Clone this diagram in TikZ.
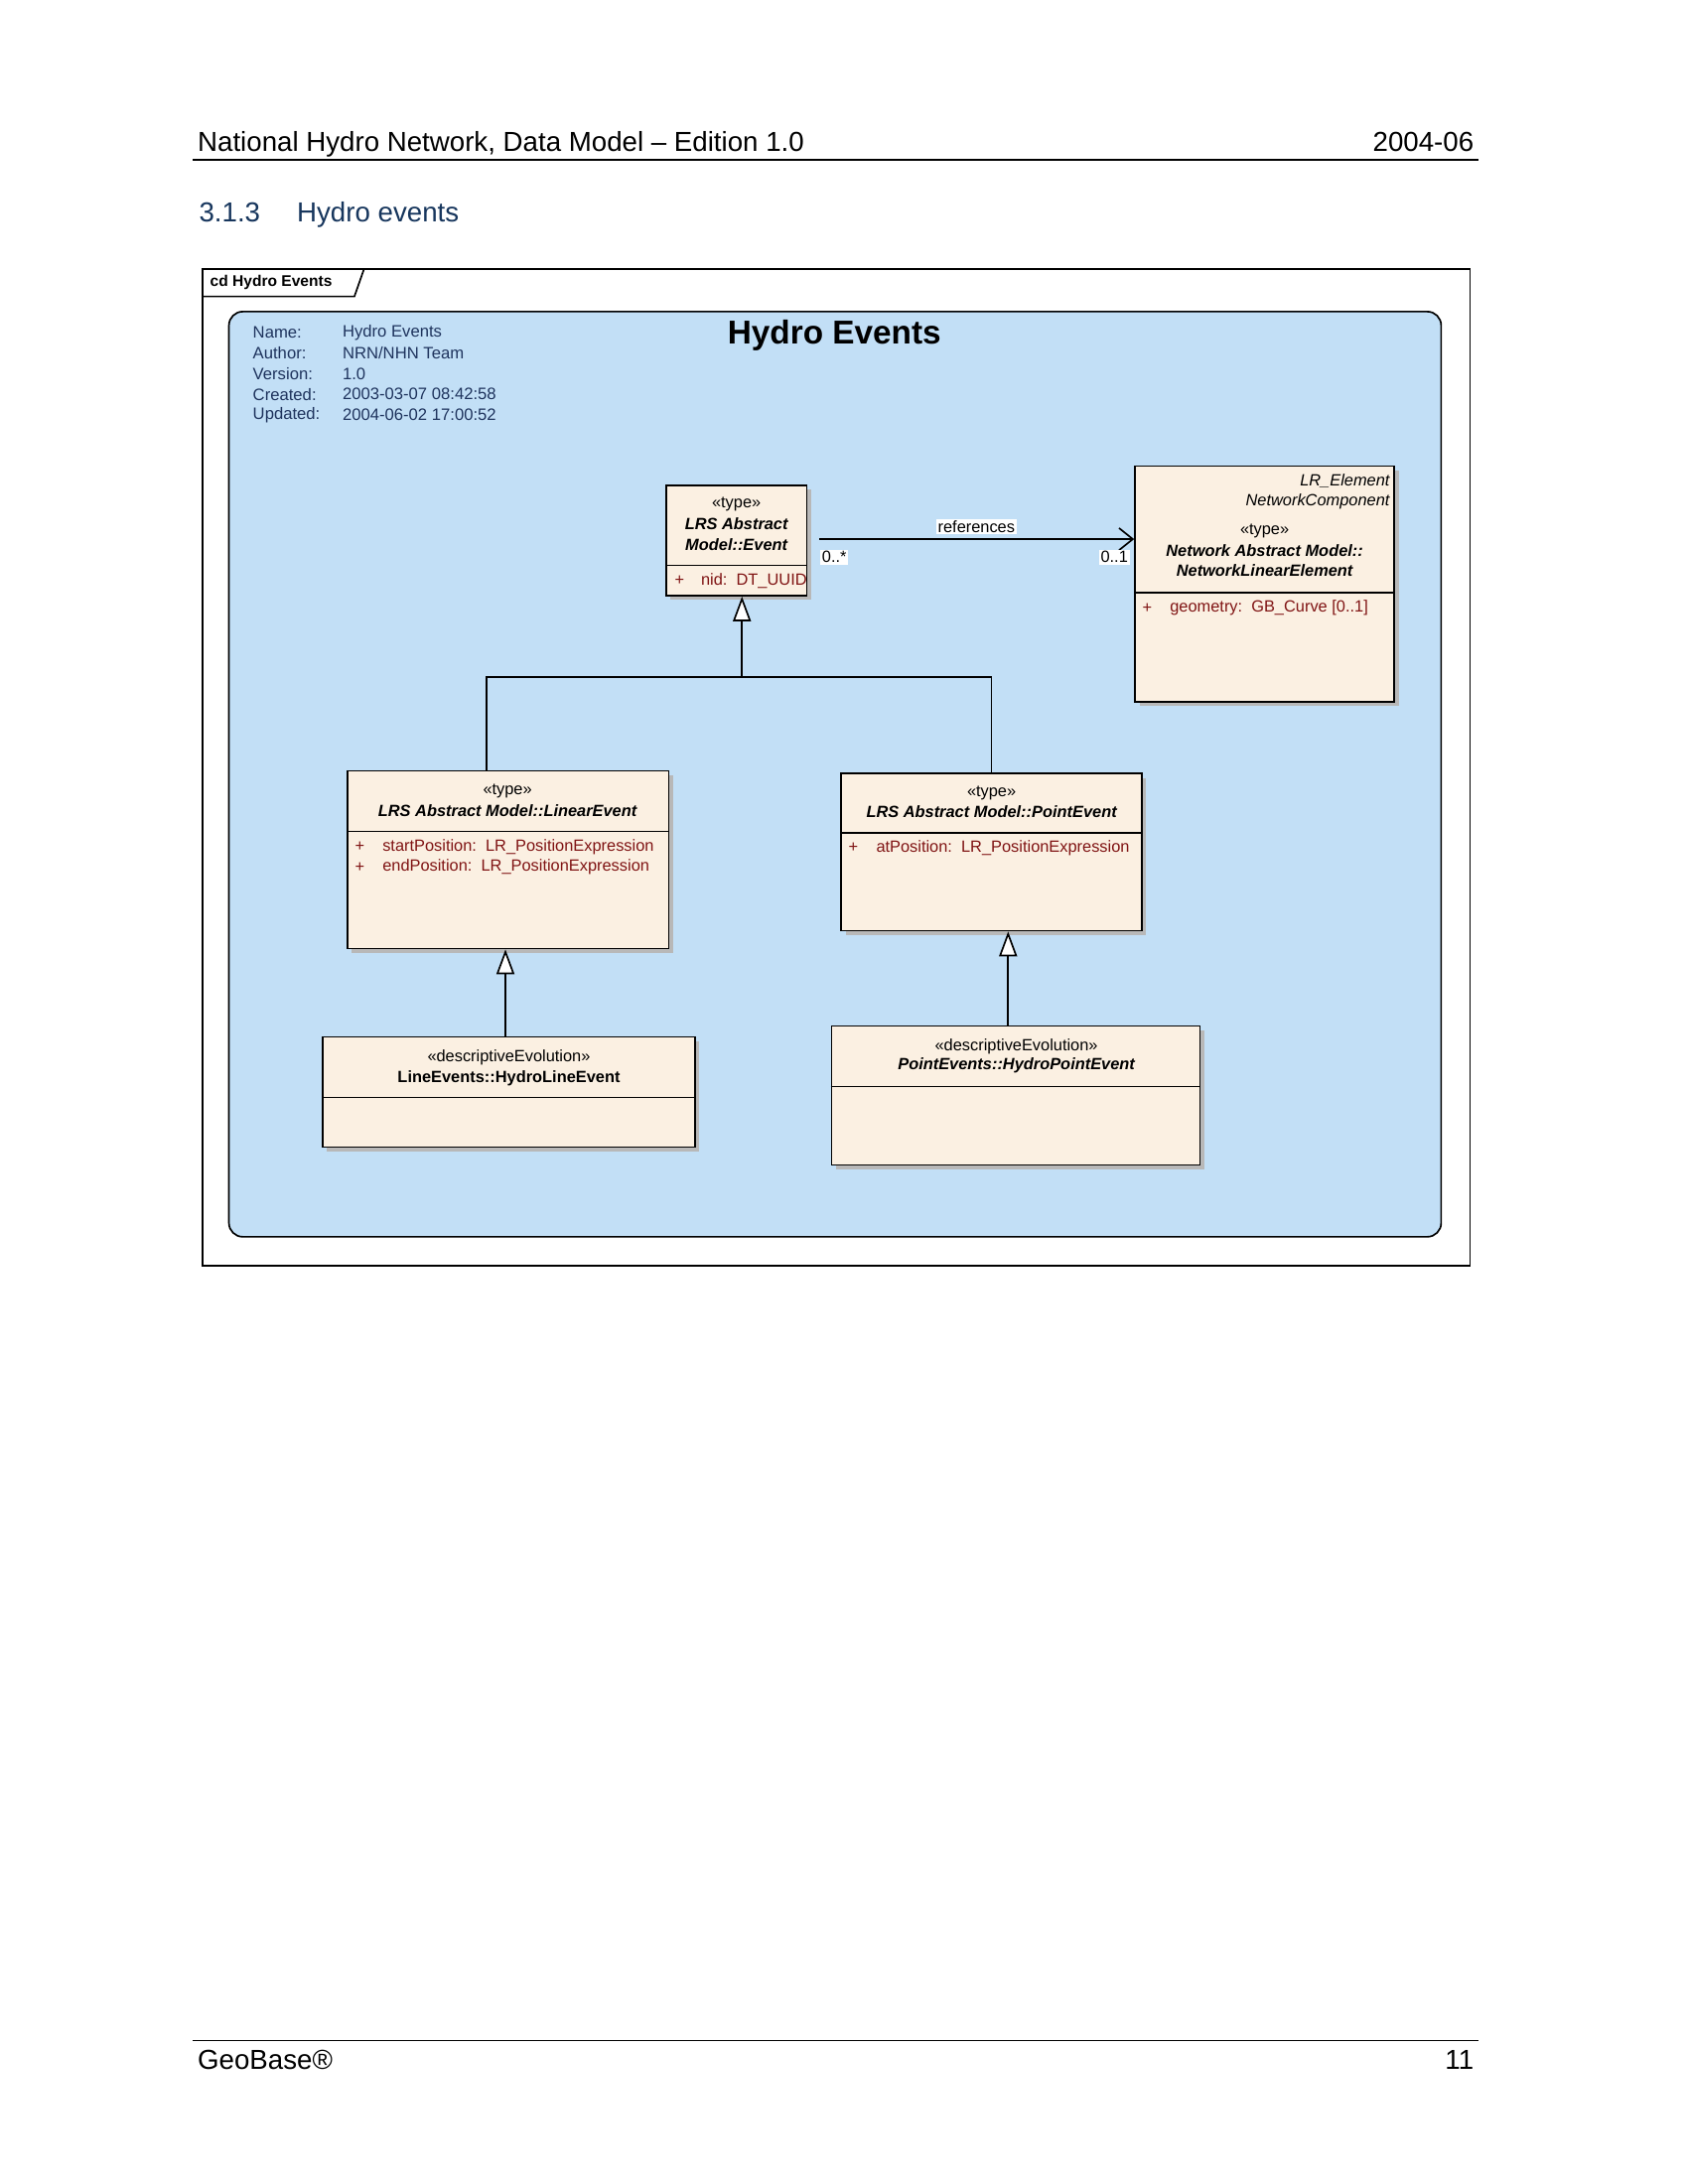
\documentclass[tikz,border=0pt]{standalone}
\usepackage{fontspec}
\setmainfont{Liberation Sans}
\usetikzlibrary{arrows.meta,fit,shadows}

\definecolor{panelblue}{RGB}{194,223,246}
\definecolor{classfill}{RGB}{251,240,226}
\definecolor{attrred}{RGB}{128,20,20}
\definecolor{infoblue}{RGB}{31,52,94}
\definecolor{headblue}{RGB}{23,54,93}

\tikzset{
  cls/.style={draw, fill=classfill, inner sep=0pt, line width=0.6bp,
    drop shadow={shadow xshift=1.6bp, shadow yshift=-1.6bp, fill=black!28, opacity=1}},
  sep/.style={line width=0.6bp},
  small/.style={font=\fontsize{5.9bp}{7bp}\selectfont, inner sep=0pt},
  clsname/.style={small, font=\fontsize{5.9bp}{7bp}\selectfont\bfseries\itshape},
  attr/.style={small, text=attrred, anchor=west},
  info/.style={font=\fontsize{6bp}{7bp}\selectfont, text=infoblue, inner sep=0pt, anchor=west},
  mult/.style={small, fill=white, inner sep=0.6bp},
  gen/.style={line width=0.6bp, -{Triangle[length=9bp,width=6.5bp,fill=white]}},
  assoc/.style={line width=0.6bp, -{Straight Barb[length=5bp,width=8bp]}},
  page/.style={font=\fontsize{10pt}{12pt}\selectfont, inner sep=0pt}
}

\begin{document}
\begin{tikzpicture}[x=0.5bp,y=-0.5bp]

\fill[white] (0,0) rectangle (1224,1584);
\useasboundingbox (0,0) rectangle (1224,1584);

% page header and footer
\node[page, anchor=base west] (head) at (143,110) {National Hydro Network, Data Model -- Edition 1.0};
\node[page, anchor=base east] (date) at (1069,110) {2004-06};
\draw[line width=0.5bp] (140,116) -- (1072,116);
\node[page, anchor=base west, text=headblue] (secno) at (144,161) {3.1.3};
\node[page, anchor=base west, text=headblue] (sec) at (215,161) {Hydro events};
\draw[line width=0.5bp] (140,1480) -- (1072,1480);
\node[page, anchor=base west] (foot) at (143,1501) {GeoBase®};
\node[page, anchor=base east] (pno) at (1069,1501) {11};

% diagram frame
\draw[line width=0.6bp] (147,195) rectangle (1066,918);
\draw[line width=0.6bp] (147,215) -- (257,215) -- (264,195);
\node[font=\fontsize{5.6bp}{7bp}\selectfont\bfseries, anchor=west, inner sep=0pt] (tab) at (152,205) {cd Hydro Events};

\draw[line width=0.6bp, fill=panelblue, rounded corners=5bp] (166,226) rectangle (1045,897);
\node[font=\fontsize{12bp}{14bp}\selectfont\bfseries, inner sep=0pt] (title) at (605,243) {Hydro Events};

\foreach \k/\v [count=\i] in {Name:/Hydro Events, Author:/{NRN/NHN Team}, Version:/1.0,
    Created:/2003-03-07 08:42:58, Updated:/2004-06-02 17:00:52} {
  \node[info] (key\i) at (183,226+15*\i) {\k};
  \node[info] (val\i) at (248,226+15*\i) {\v};
}

% classes
\node[cls, fit={(483,352) (585,432)}] (event) {};
\draw[sep] (event.west |- 0,410) -- (event.east |- 0,410);
\node[small] (eventst) at (534,366) {«type»};
\node[clsname] (eventnm1) at (534,380) {LRS Abstract};
\node[clsname] (eventnm2) at (534,395) {Model::Event};
\node[attr] (eventp) at (489,421) {+};
\node[attr] (eventa) at (508,421) {nid:~~DT\_UUID};

\node[cls, fit={(823,338) (1011,509)}] (nle) {};
\draw[sep] (nle.west |- 0,430) -- (nle.east |- 0,430);
\node[small, font=\fontsize{5.9bp}{7bp}\selectfont\itshape, anchor=east] (nleif1) at (1008,349) {LR\_Element};
\node[small, font=\fontsize{5.9bp}{7bp}\selectfont\itshape, anchor=east] (nleif2) at (1008,364) {NetworkComponent};
\node[small] (nlest) at (917,385) {«type»};
\node[clsname] (nlenm1) at (917,399) {Network Abstract Model::};
\node[clsname] (nlenm2) at (917,414) {NetworkLinearElement};
\node[attr] (nlep) at (828,441) {+};
\node[attr] (nlea) at (848,441) {geometry:~~GB\_Curve [0..1]};

\node[cls, fit={(252,559) (485,688)}] (linear) {};
\draw[sep] (linear.west |- 0,603) -- (linear.east |- 0,603);
\node[small] (linearst) at (368,574) {«type»};
\node[clsname] (linearnm) at (368,588) {LRS Abstract Model::LinearEvent};
\node[attr] (linearp1) at (257,614) {+};
\node[attr] (lineara1) at (277,614) {startPosition:~~LR\_PositionExpression};
\node[attr] (linearp2) at (257,629) {+};
\node[attr] (lineara2) at (277,629) {endPosition:~~LR\_PositionExpression};

\node[cls, fit={(610,561) (828,675)}] (point) {};
\draw[sep] (point.west |- 0,604) -- (point.east |- 0,604);
\node[small] (pointst) at (719,575) {«type»};
\node[clsname] (pointnm) at (719,589) {LRS Abstract Model::PointEvent};
\node[attr] (pointp) at (615,615) {+};
\node[attr] (pointa) at (635,615) {atPosition:~~LR\_PositionExpression};

\node[cls, fit={(234,752) (504,832)}] (hline) {};
\draw[sep] (hline.west |- 0,796) -- (hline.east |- 0,796);
\node[small] (hlinest) at (369,767) {«descriptiveEvolution»};
\node[small, font=\fontsize{5.9bp}{7bp}\selectfont\bfseries] (hlinenm) at (369,782) {LineEvents::HydroLineEvent};

\node[cls, fit={(603,744) (870,845)}] (hpoint) {};
\draw[sep] (hpoint.west |- 0,788) -- (hpoint.east |- 0,788);
\node[small] (hpointst) at (737,759) {«descriptiveEvolution»};
\node[clsname] (hpointnm) at (737,773) {PointEvents::HydroPointEvent};

% association
\coordinate (asrc) at (594,391);
\draw[assoc] (asrc) -- (asrc -| nle.west);
\node[mult] (assocl) at (708,382) {references};
\node[mult] (mults) at (605,404) {0..*};
\node[mult] (multt) at (808,404) {0..1};

% generalizations
\coordinate (jl) at (353,491);
\coordinate (jm) at (538,491);
\coordinate (jr) at (719,491);
\draw[gen] (jl |- linear.north) -- (jl) -- (jm) -- (jm |- event.south);
\draw[line width=0.6bp] (jr |- point.north) -- (jr) -- (jm);

\coordinate (gl) at (366.5,0);
\coordinate (gr) at (731,0);
\draw[gen] (gl |- hline.north) -- (gl |- linear.south);
\draw[gen] (gr |- hpoint.north) -- (gr |- point.south);

\end{tikzpicture}
\end{document}
